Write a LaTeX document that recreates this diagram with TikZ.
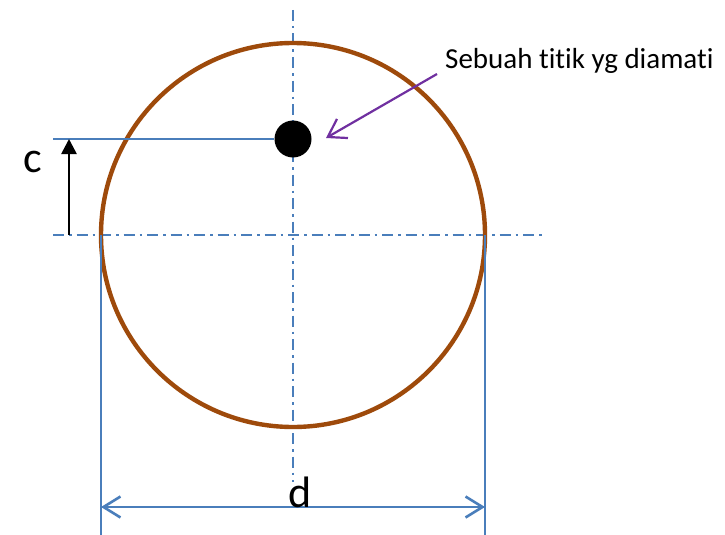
\documentclass[tikz,border=0pt]{standalone}
\usepackage{fontspec}
\setmainfont[Ligatures=NoCommon]{Carlito}
\usepackage{tikz}
\usetikzlibrary{arrows.meta,positioning}
\usepackage{xcolor}
\definecolor{axisblue}{HTML}{4A7EBB}
\definecolor{ringbrown}{HTML}{9E4A0B}
\definecolor{pointerpurple}{HTML}{7030A0}

\begin{document}
\begin{tikzpicture}[
  x=1pt, y=-1pt,
  centerline/.style={
    draw=axisblue,
    line width=2.4pt,
    dash pattern=on 11pt off 5pt on 2.5pt off 5pt
  },
  dimline/.style={
    draw=axisblue,
    line width=2.6pt
  },
  dimarrow/.style={
    dimline,
    {Straight Barb[length=17pt,width=21pt,line width=2.6pt]}-{Straight Barb[length=17pt,width=21pt,line width=2.6pt]}
  },
  pointer/.style={
    draw=pointerpurple,
    line width=2.2pt,
    -{Straight Barb[length=17pt,width=22pt,line width=2.2pt]}
  },
  rise/.style={
    draw=black,
    line width=2.6pt,
    -{Triangle[length=15pt,width=15pt]}
  },
  biglabel/.style={
    font=\fontsize{44}{44}\selectfont,
    inner sep=0pt
  }
]
  \useasboundingbox (0,0) rectangle (725,535);

  % Centre lines
  \coordinate (axtop) at (293,10);
  \coordinate (axbottom) at (293,482);
  \coordinate (axleft) at (53,235);
  \coordinate (axright) at (545,235);
  \draw[centerline] (axtop) -- (axbottom);
  \draw[centerline] (axleft) -- (axright);

  % The observed circle and the point on it
  \node[circle, draw=ringbrown, line width=4.4pt, minimum size=384pt, inner sep=0pt] (ring) at (293,235) {};
  \node[circle, fill=black, minimum size=37pt, inner sep=0pt] (spot) at (293,139) {};

  % Height c of the point
  \coordinate (cref) at (53,139);
  \coordinate (cfoot) at (69,235);
  \coordinate (chead) at (69,139);
  \draw[dimline] (cref) -- (spot.west);
  \draw[rise] (cfoot) -- (chead);
  \node[biglabel, anchor=base] (clabel) at (33,172) {c};

  % Diameter d
  \coordinate (dleft) at (101,235);
  \coordinate (dright) at (485,235);
  \coordinate (dleftend) at (101,535);
  \coordinate (drightend) at (485,535);
  \draw[dimline] (dleft) -- (dleftend);
  \draw[dimline] (dright) -- (drightend);
  \coordinate (dl) at (101,507);
  \coordinate (dr) at (485,507);
  \draw[dimarrow] (dl) -- (dr);
  \node[biglabel, anchor=base] (dlabel) at (300,507) {d};

  % Callout
  \node[font=\fontsize{29}{29}\selectfont, inner sep=0pt, anchor=base west] (note) at (445,68) {Sebuah titik yg diamati};
  \coordinate (notefoot) at (437,74);
  \coordinate (notetip) at (326,138);
  \draw[pointer] (notefoot) -- (notetip);

\end{tikzpicture}
\end{document}
